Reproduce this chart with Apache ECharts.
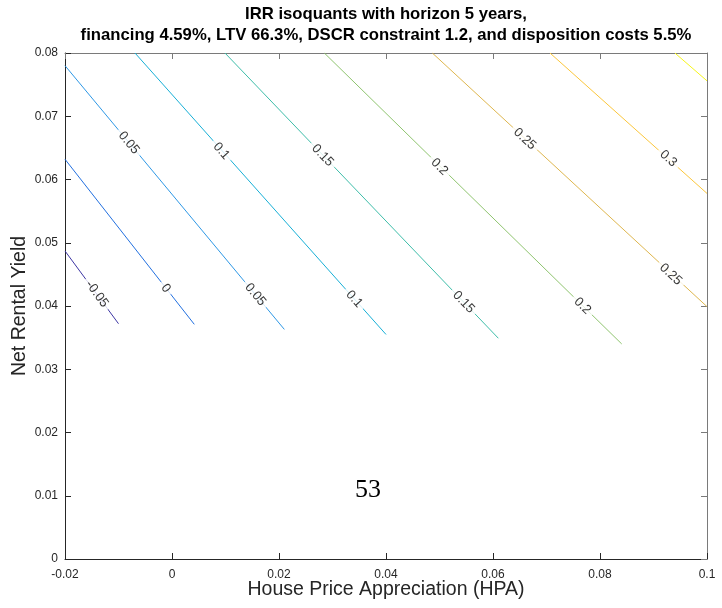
<!DOCTYPE html>
<html><head><meta charset="utf-8">
<script src="https://cdn.jsdelivr.net/npm/echarts@6/dist/echarts.min.js"></script>
<style>html,body{margin:0;padding:0;background:#fff}#c{width:722px;height:608px}</style>
</head><body><div id="c"></div>
<script>
// ---- data ----
const titleLines = ['IRR isoquants with horizon 5 years,',
  'financing 4.59%, LTV 66.3%, DSCR constraint 1.2, and disposition costs 5.5%'];
const xName = 'House Price Appreciation (HPA)';
const yName = 'Net Rental Yield';
const xTicks = [-0.02, 0, 0.02, 0.04, 0.06, 0.08, 0.1];
const yTicks = [0, 0.01, 0.02, 0.03, 0.04, 0.05, 0.06, 0.07, 0.08];
const levels = [-0.05, 0, 0.05, 0.1, 0.15, 0.2, 0.25, 0.3, 0.35];
// contour lines (HPA, yield)
const iso_m005 = [[-0.02, 0.0487], [-0.0100, 0.0372]];
const iso_000  = [[-0.02, 0.0632], [0.00417, 0.0371]];
const iso_005  = [[-0.02, 0.0780], [0.0210, 0.0363]];
const iso_010  = [[-0.00692, 0.08], [0.0400, 0.0355]];
const iso_015  = [[0.0099, 0.08], [0.0610, 0.0349]];
const iso_020  = [[0.02847, 0.08], [0.08406, 0.0340]];
const iso_025  = [[0.04866, 0.08], [0.1, 0.0399]];
const iso_030  = [[0.07065, 0.08], [0.1, 0.0578]];
const iso_035  = [[0.0940, 0.08], [0.1, 0.0756]];
// contour label anchors: [level, HPA, yield]
const labelAnchors = [
  [-0.05, -0.01402, 0.0419],
  [0, -0.00116, 0.0428],
  [0.05, -0.00809, 0.0658],
  [0.05, 0.01557, 0.0418],
  [0.1, 0.00922, 0.0645],
  [0.1, 0.03406, 0.0411],
  [0.15, 0.02813, 0.0638],
  [0.15, 0.05449, 0.0406],
  [0.2, 0.0500, 0.0620],
  [0.2, 0.07673, 0.0400],
  [0.25, 0.06593, 0.0664],
  [0.25, 0.09323, 0.0450],
  [0.3, 0.09277, 0.0633]
];
const annotText = '53';
const annotPos = [0.03664, 0.01091];

// ---- chart ----
const isoLines = [iso_m005, iso_000, iso_005, iso_010, iso_015, iso_020, iso_025, iso_030, iso_035];
const colors = ['#3d36a4', '#2270e0', '#2e98e6', '#17afd6', '#3ebda9', '#8fc46f', '#deb64e', '#fbc63b', '#f6f51a'];
const FONT = 'Liberation Sans, Arial, Helvetica, sans-serif';
const dark = '#262626', light = '#7a7a7a';

const chart = echarts.init(document.getElementById('c'), null, {renderer: 'canvas'});

function axisCommon(min, max, interval) {
  return {type: 'value', min: min, max: max, interval: interval, splitLine: {show: false}};
}

const base = {
  animation: false,
  backgroundColor: '#fff',
  grid: {left: 65, right: 15, top: 53, bottom: 49, containLabel: false, outerBoundsMode: 'none'},
  xAxis: [
    Object.assign(axisCommon(xTicks[0], xTicks[xTicks.length - 1], xTicks[1] - xTicks[0]), {
      position: 'bottom',
      axisLine: {show: true, onZero: false, lineStyle: {color: dark, width: 1}},
      axisTick: {show: true, inside: true, length: 6, lineStyle: {color: dark}},
      axisLabel: {show: true, color: dark, fontSize: 12, fontFamily: FONT, margin: 10,
        formatter: v => String(+v.toFixed(4))},
      name: xName, nameLocation: 'middle', nameGap: 21, nameMoveOverlap: false,
      nameTextStyle: {fontSize: 19.5, color: dark, fontFamily: FONT, verticalAlign: 'top'}
    }),
    Object.assign(axisCommon(xTicks[0], xTicks[xTicks.length - 1], xTicks[1] - xTicks[0]), {
      position: 'top',
      axisLine: {show: true, onZero: false, lineStyle: {color: light, width: 1}},
      axisTick: {show: true, inside: true, length: 6, lineStyle: {color: light}},
      axisLabel: {show: false}
    })
  ],
  yAxis: [
    Object.assign(axisCommon(yTicks[0], yTicks[yTicks.length - 1], yTicks[1] - yTicks[0]), {
      position: 'left',
      axisLine: {show: true, onZero: false, lineStyle: {color: dark, width: 1}},
      axisTick: {show: true, inside: true, length: 6, lineStyle: {color: dark}},
      axisLabel: {show: true, color: dark, fontSize: 12, fontFamily: FONT, margin: 7,
        formatter: v => String(+v.toFixed(4))},
      name: yName, nameLocation: 'middle', nameGap: 35, nameMoveOverlap: false,
      nameTextStyle: {fontSize: 19.5, color: dark, fontFamily: FONT}
    }),
    Object.assign(axisCommon(yTicks[0], yTicks[yTicks.length - 1], yTicks[1] - yTicks[0]), {
      position: 'right',
      axisLine: {show: true, onZero: false, lineStyle: {color: light, width: 1}},
      axisTick: {show: true, inside: true, length: 6, lineStyle: {color: light}},
      axisLabel: {show: false}
    })
  ],
  series: levels.map((lv, i) => ({
    type: 'line', name: String(lv), data: isoLines[i], xAxisIndex: 0, yAxisIndex: 0,
    showSymbol: false, symbol: 'none', silent: true, z: 2,
    lineStyle: {width: 1, color: colors[i]}
  }))
};
chart.setOption(base);

// label rotation follows each line's on-screen direction
const labelData = labelAnchors.map(a => {
  const idx = levels.indexOf(a[0]);
  const line = isoLines[idx];
  const p0 = chart.convertToPixel({seriesIndex: idx}, line[0]);
  const p1 = chart.convertToPixel({seriesIndex: idx}, line[line.length - 1]);
  const ang = -Math.atan2(p1[1] - p0[1], p1[0] - p0[0]) * 180 / Math.PI;
  return {value: [a[1], a[2]], label: {formatter: String(a[0]), rotate: ang}};
});
const ap = chart.convertToPixel({seriesIndex: 0}, annotPos);

chart.setOption({
  series: base.series.concat([{
    type: 'scatter', data: labelData, symbolSize: 0, silent: true, z: 5,
    xAxisIndex: 0, yAxisIndex: 0,
    label: {show: true, position: 'inside', color: '#000', fontSize: 13, fontFamily: FONT,
      backgroundColor: '#fff', padding: [1, 4], align: 'center', verticalAlign: 'middle'}
  }]),
  graphic: [
    {type: 'text', x: 386, y: 14, style: {text: titleLines[0], x: 0, y: 0,
      align: 'center', verticalAlign: 'middle', font: 'bold 16.7px ' + FONT, fill: '#000'}},
    {type: 'text', x: 386, y: 35, style: {text: titleLines[1], x: 0, y: 0,
      align: 'center', verticalAlign: 'middle', font: 'bold 16.7px ' + FONT, fill: '#000'}},
    {type: 'text', x: ap[0], y: ap[1], style: {text: annotText, x: 0, y: 0,
      align: 'center', verticalAlign: 'middle', font: '26px Liberation Serif, DejaVu Serif, serif', fill: '#000'}}
  ]
});
</script>
</body></html>
